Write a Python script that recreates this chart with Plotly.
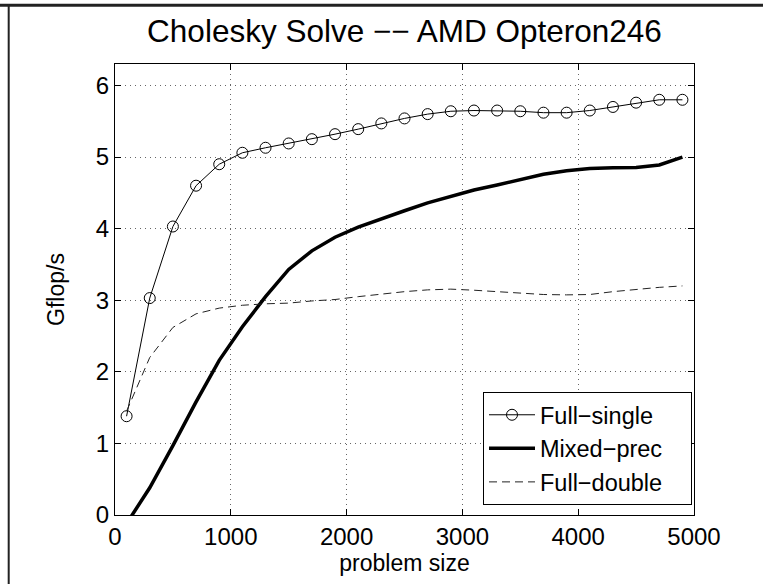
import plotly.graph_objects as go

# ---------------- data ----------------
sizes = [100, 300, 500, 700, 900, 1100, 1300, 1500, 1700, 1900, 2100, 2300, 2500,
         2700, 2900, 3100, 3300, 3500, 3700, 3900, 4100, 4300, 4500, 4700, 4900]

full_single = [1.38, 3.03, 4.03, 4.60, 4.90, 5.06, 5.13, 5.19, 5.25, 5.32, 5.39, 5.47, 5.54,
               5.60, 5.64, 5.65, 5.65, 5.64, 5.62, 5.62, 5.65, 5.70, 5.76, 5.80, 5.80]

mixed_prec = [-0.12, 0.38, 0.97, 1.58, 2.16, 2.63, 3.05, 3.43, 3.69, 3.88, 4.02, 4.14, 4.25,
              4.36, 4.45, 4.54, 4.61, 4.69, 4.76, 4.81, 4.84, 4.85, 4.855, 4.89, 5.00]

full_double = [1.45, 2.20, 2.62, 2.81, 2.89, 2.93, 2.95, 2.96, 2.99, 3.01, 3.05, 3.09, 3.12,
               3.145, 3.155, 3.14, 3.12, 3.10, 3.08, 3.075, 3.08, 3.12, 3.155, 3.18, 3.20]

x_ticks = [0, 1000, 2000, 3000, 4000, 5000]
y_ticks = [0, 1, 2, 3, 4, 5, 6]

title_text = "Cholesky Solve \u2212\u2212 AMD Opteron246"
names = ["Full\u2212single", "Mixed\u2212prec", "Full\u2212double"]

FONT = "Liberation Sans, Arial, Helvetica, sans-serif"
PAD = "\u2003"  # right padding inside the legend box

fig = go.Figure()
fig.add_trace(go.Scatter(
    x=sizes, y=full_single, name=names[0] + PAD, mode="lines+markers",
    line=dict(color="black", width=1),
    marker=dict(symbol="circle-open", size=11, color="black", line=dict(width=1)),
))
fig.add_trace(go.Scatter(
    x=sizes, y=mixed_prec, name=names[1] + PAD, mode="lines",
    line=dict(color="black", width=3.5),
))
fig.add_trace(go.Scatter(
    x=sizes, y=full_double, name=names[2] + PAD, mode="lines",
    line=dict(color="#222222", width=1, dash="8px,5px"),
))

L, R, T, B = 115, 69, 64, 69
W, H = 763, 584
pw, ph = W - L - R, H - T - B

def px_to_paper_x(px):
    return (px - L) / pw

def py_to_paper_y(py):
    return (H - B - py) / ph

axis_common = dict(
    showline=True, linecolor="black", linewidth=1, mirror="ticks",
    ticks="inside", ticklen=6, tickcolor="black", tickwidth=1,
    showgrid=True, gridcolor="#666666", gridwidth=1, griddash="1px,4px",
    zeroline=False, tickfont=dict(family=FONT, size=24, color="black"),
)

fig.update_layout(
    width=W, height=H,
    margin=dict(l=L, r=R, t=T, b=B, pad=0),
    paper_bgcolor="white", plot_bgcolor="white",
    font=dict(family=FONT, color="black"),
    title=dict(text=title_text, x=0.5 * (L + W - R) / W, xanchor="center",
               y=1 - 31 / H, yanchor="middle",
               font=dict(family=FONT, size=31.5, color="black")),
    xaxis=dict(range=[0, 5000], tickvals=x_ticks, ticktext=[str(v) for v in x_ticks],
               title=dict(text="problem size", standoff=3,
                          font=dict(family=FONT, size=23, color="black")),
               **axis_common),
    yaxis=dict(range=[0, 6.3], tickvals=y_ticks, ticktext=[str(v) for v in y_ticks],
               title=dict(text="Gflop/s", standoff=24,
                          font=dict(family=FONT, size=23, color="black")),
               **axis_common),
    legend=dict(x=px_to_paper_x(692), xanchor="right",
                y=py_to_paper_y(505), yanchor="bottom",
                bgcolor="white", bordercolor="black", borderwidth=1,
                font=dict(family=FONT, size=23.5, color="black"),
                tracegroupgap=0, itemwidth=46),
    showlegend=True,
    shapes=[
        dict(type="line", xref="paper", yref="paper",
             x0=px_to_paper_x(0), x1=px_to_paper_x(W), y0=py_to_paper_y(5.3), y1=py_to_paper_y(5.3),
             line=dict(color="#222222", width=3)),
        dict(type="line", xref="paper", yref="paper",
             x0=px_to_paper_x(8.7), x1=px_to_paper_x(8.7), y0=py_to_paper_y(4), y1=py_to_paper_y(H),
             line=dict(color="#222222", width=2)),
    ],
)

fig.write_html("out.html")
